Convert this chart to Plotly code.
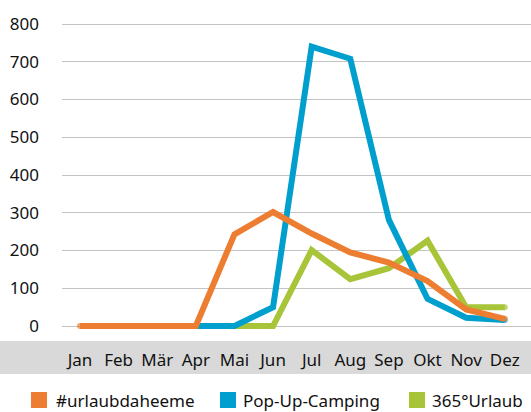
import plotly.graph_objects as go

months = ["Jan", "Feb", "Mär", "Apr", "Mai", "Jun", "Jul", "Aug", "Sep", "Okt", "Nov", "Dez"]
urlaubdaheeme = [0, 0, 0, 0, 243, 302, 245, 195, 168, 119, 44, 19]
popup_camping = [None, None, None, 0, 0, 50, 740, 708, 281, 72, 22, 16]
urlaub365 = [None, None, None, 0, 0, 0, 201, 124, 153, 226, 50, 50]
y_ticks = [0, 100, 200, 300, 400, 500, 600, 700, 800]

names = ["#urlaubdaheeme", "Pop-Up-Camping", "365°Urlaub"]
colors = ["#ED7D31", "#009FCD", "#A8C53A"]
series = [urlaubdaheeme, popup_camping, urlaub365]

FONT = "Noto Sans"
TXT = "#111111"
W, H = 531, 412
L, R, T, B = 62, 0, 0, 71
PW, PH = W - L - R, H - T - B


def px(xp):
    return (xp - L) / PW


def py(yp):
    return (H - B - yp) / PH


fig = go.Figure()
# draw order: green, blue, orange (orange on top)
for idx in [2, 1, 0]:
    vals = series[idx]
    valid = [i for i, v in enumerate(vals) if v is not None]
    sizes = [6 if (i == valid[0] or i == valid[-1]) else 0 for i in range(len(vals))]
    fig.add_trace(go.Scatter(
        x=list(range(len(months))), y=vals, mode="lines+markers",
        line=dict(color=colors[idx], width=6),
        marker=dict(size=sizes, color=colors[idx], line=dict(width=0)),
        showlegend=False, hoverinfo="skip", cliponaxis=False))

# gray band behind month labels
fig.add_shape(type="rect", xref="paper", yref="paper",
              x0=px(0), x1=1.0, y0=py(374), y1=py(341),
              fillcolor="#d9d9d9", line=dict(width=0), layer="below")

# manual legend: squares + labels
sq_left = [31, 220, 409]
txt_left = [54, 241, 430]
for i in range(3):
    fig.add_shape(type="rect", xref="paper", yref="paper",
                  x0=px(sq_left[i]), x1=px(sq_left[i] + 16),
                  y0=py(408), y1=py(392),
                  fillcolor=colors[i], line=dict(width=0))
    fig.add_annotation(xref="paper", yref="paper", x=px(txt_left[i]), y=py(400),
                       xanchor="left", yanchor="middle", showarrow=False,
                       text=names[i], font=dict(size=17, color=TXT, family=FONT))

fig.update_layout(
    width=W, height=H,
    margin=dict(l=L, r=R, t=T, b=B, autoexpand=False),
    paper_bgcolor="white", plot_bgcolor="white",
    font=dict(family=FONT, size=17, color=TXT),
    showlegend=False,
    xaxis=dict(
        range=[-0.466, 11.68], automargin=False,
        tickmode="array", tickvals=list(range(len(months))), ticktext=months,
        showgrid=False, zeroline=False, showline=False, ticks="",
        ticklabelstandoff=7, tickfont=dict(size=17, color=TXT),
    ),
    yaxis=dict(
        range=[-39.7, 863.6], automargin=False,
        tickmode="array", tickvals=y_ticks,
        showgrid=True, gridcolor="#c4c4c4", gridwidth=1,
        zeroline=False, showline=False, ticks="",
        ticklabelstandoff=22, tickfont=dict(size=17, color=TXT),
    ),
)

fig.write_html("out.html", config={"displayModeBar": False},
               post_script="document.body.style.margin='0';document.body.style.overflow='hidden';")
